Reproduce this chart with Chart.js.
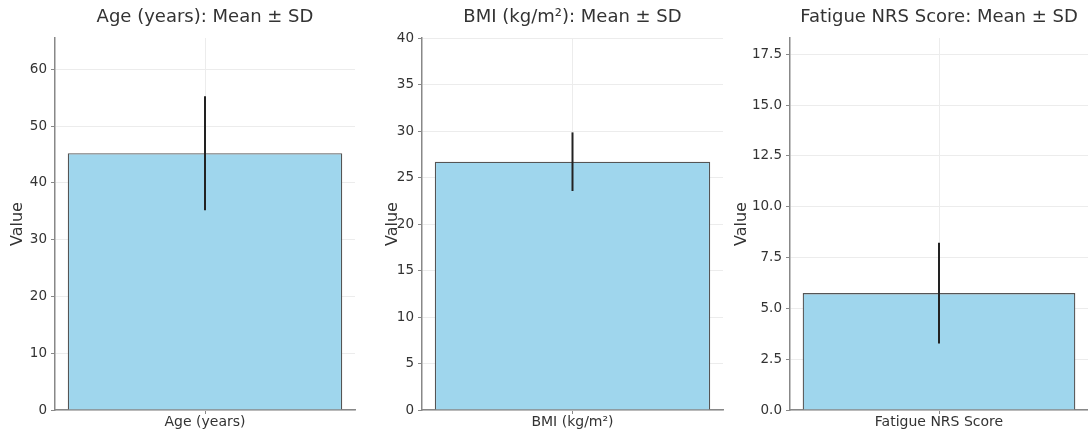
<!DOCTYPE html>
<html>
<head>
<meta charset="utf-8">
<script src="https://cdn.jsdelivr.net/npm/chart.js@4.4.1/dist/chart.umd.min.js"></script>
<style>
  html, body { margin: 0; padding: 0; background: #fff; }
  #wrap { position: relative; width: 1088px; height: 433px; overflow: hidden; }
  .panel { position: absolute; top: 0; height: 433px; }
</style>
</head>
<body>
<div id="wrap">
  <div class="panel" style="left:0;width:362px"><canvas id="c0"></canvas></div>
  <div class="panel" style="left:362px;width:368px"><canvas id="c1"></canvas></div>
  <div class="panel" style="left:730px;width:358px"><canvas id="c2"></canvas></div>
</div>
<script>
// values
const categories = ['Age (years)', 'BMI (kg/m²)', 'Fatigue NRS Score'];
const means = [45.2, 26.7, 5.75];
const sds = [10.05, 3.15, 2.48];
const yMax = [65.5, 40, 18.3];
const yStep = [10, 5, 2.5];
const yDecimals = [0, 0, 1];

// layout per panel: y-axis width, right padding, offset of the "Value" title
const axisWidth = [55, 60, 60];
const padRight = [7, 7, 0];
const valuePad = [8.5, 21.5, 2.5];

Chart.defaults.font.family = "'DejaVu Sans', sans-serif";

// title centred over the plot area, like the source
const panelTitle = {
    id: 'panelTitle',
    afterDraw(chart, args, opts) {
        const ctx = chart.ctx;
        const a = chart.chartArea;
        ctx.save();
        ctx.fillStyle = '#333';
        ctx.font = "18px 'DejaVu Sans', sans-serif";
        ctx.textAlign = 'center';
        ctx.textBaseline = 'middle';
        ctx.fillText(opts.text, (a.left + a.right) / 2, 17);
        ctx.restore();
    }
};

const errorBars = {
    id: 'errorBars',
    afterDatasetsDraw(chart, args, opts) {
        const ctx = chart.ctx;
        const y = chart.scales.y;
        chart.getDatasetMeta(0).data.forEach((bar, i) => {
            const m = chart.data.datasets[0].data[i];
            const s = opts.sd[i];
            ctx.save();
            ctx.strokeStyle = '#222';
            ctx.lineWidth = 2;
            ctx.beginPath();
            ctx.moveTo(bar.x, y.getPixelForValue(m - s));
            ctx.lineTo(bar.x, y.getPixelForValue(m + s));
            ctx.stroke();
            ctx.restore();
        });
    }
};

categories.forEach((cat, i) => {
    const step = yStep[i];
    new Chart(document.getElementById('c' + i), {
        type: 'bar',
        data: {
            labels: [cat],
            datasets: [{
                data: [means[i]],
                backgroundColor: '#9fd6ed',
                borderColor: '#555',
                borderWidth: 1.3,
                categoryPercentage: 1,
                barPercentage: 0.915
            }]
        },
        options: {
            responsive: true,
            maintainAspectRatio: false,
            animation: false,
            layout: { padding: { top: 38, right: padRight[i], bottom: 0, left: 0 } },
            plugins: {
                legend: { display: false },
                tooltip: { enabled: false },
                title: { display: false },
                panelTitle: { text: cat + ': Mean ± SD' },
                errorBars: { sd: [sds[i]] }
            },
            scales: {
                x: {
                    grid: { offset: false, color: '#ececec', tickColor: '#888', tickLength: 4 },
                    border: { color: '#888', width: 1.5 },
                    ticks: { color: '#333', font: { size: 14 }, padding: 0 },
                    afterFit: s => { s.height = 23; }
                },
                y: {
                    min: 0,
                    max: yMax[i],
                    grid: { color: '#ececec', tickColor: '#888', tickLength: 4 },
                    border: { color: '#888', width: 1.5 },
                    ticks: {
                        stepSize: step,
                        color: '#333',
                        padding: 4,
                        font: { size: 13.5 },
                        callback: v => v.toFixed(yDecimals[i])
                    },
                    afterBuildTicks: s => {
                        s.ticks = s.ticks.filter(t => Math.abs(t.value / step - Math.round(t.value / step)) < 1e-6);
                    },
                    title: {
                        display: true,
                        text: 'Value',
                        color: '#333',
                        font: { size: 16 },
                        padding: { top: valuePad[i], bottom: 0 }
                    },
                    afterFit: s => { s.width = axisWidth[i]; }
                }
            }
        },
        plugins: [errorBars, panelTitle]
    });
});
</script>
</body>
</html>
